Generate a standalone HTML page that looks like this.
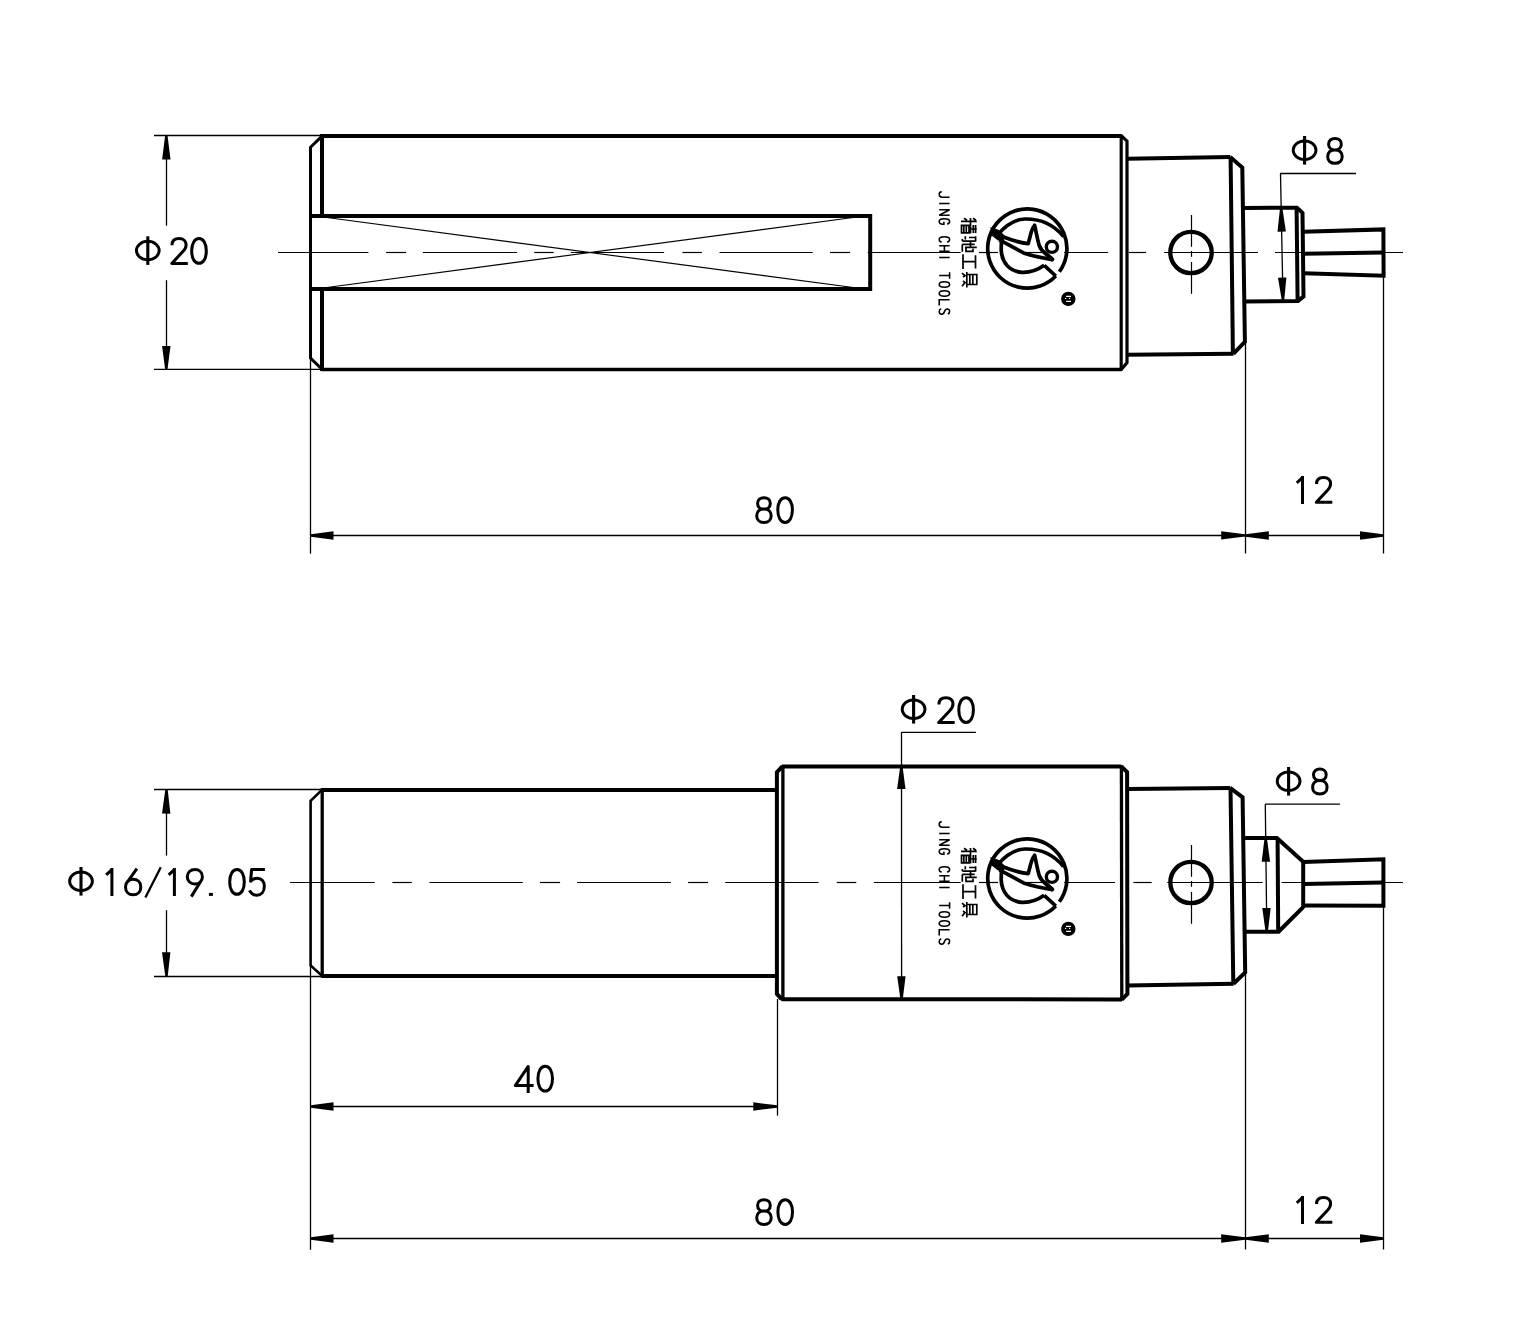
<!DOCTYPE html>
<html><head><meta charset="utf-8"><title>Drawing</title>
<style>html,body{margin:0;padding:0;background:#fff;width:1530px;height:1320px;overflow:hidden;font-family:"Liberation Sans",sans-serif}
svg{display:block}</style></head>
<body><svg width="1530" height="1320" viewBox="0 0 1530 1320" stroke="#000" fill="none" stroke-linecap="butt" stroke-linejoin="miter">
<rect x="0" y="0" width="1530" height="1320" fill="#fff" stroke="none"/>
<line x1="278" y1="252.5" x2="368.4" y2="252.5" stroke-width="1.2"/>
<line x1="386.2" y1="252.5" x2="406.1" y2="252.5" stroke-width="1.2"/>
<line x1="422.8" y1="252.5" x2="517.1" y2="252.5" stroke-width="1.2"/>
<line x1="534.2" y1="252.5" x2="553.7" y2="252.5" stroke-width="1.2"/>
<line x1="570.8" y1="252.5" x2="664.1" y2="252.5" stroke-width="1.2"/>
<line x1="682.4" y1="252.5" x2="701.8" y2="252.5" stroke-width="1.2"/>
<line x1="719.5" y1="252.5" x2="812.8" y2="252.5" stroke-width="1.2"/>
<line x1="830" y1="252.5" x2="850.1" y2="252.5" stroke-width="1.2"/>
<line x1="867.7" y1="252.5" x2="960.7" y2="252.5" stroke-width="1.2"/>
<line x1="979" y1="252.5" x2="998" y2="252.5" stroke-width="1.2"/>
<line x1="1025" y1="252.5" x2="1043" y2="252.5" stroke-width="1.2"/>
<line x1="1064" y1="252.5" x2="1108.2" y2="252.5" stroke-width="1.2"/>
<line x1="1128.8" y1="252.5" x2="1146.1" y2="252.5" stroke-width="1.2"/>
<line x1="1164.1" y1="252.5" x2="1258" y2="252.5" stroke-width="1.2"/>
<line x1="1275" y1="252.5" x2="1403" y2="252.5" stroke-width="1.2"/>
<circle cx="1191" cy="252.5" r="20.7" stroke-width="4.3" fill="none"/>
<line x1="1191.5" y1="215" x2="1191.5" y2="246.8" stroke-width="1.2"/>
<line x1="1191.5" y1="251" x2="1191.5" y2="256.8" stroke-width="1.2"/>
<line x1="1191.5" y1="262" x2="1191.5" y2="293.8" stroke-width="1.2"/>
<path d="M321.5 136 L1121.8 136" stroke-width="4"/>
<path d="M321.5 369.5 L1121.8 369.5" stroke-width="3.4"/>
<path d="M322 134 L322 217.5" stroke-width="4"/>
<path d="M322 287 L322 371" stroke-width="4"/>
<path d="M322.5 135.6 L310.5 147.3 L310.5 358 L322.5 369.8" stroke-width="3"/>
<path d="M310.6 216 L870.2 216 L870.2 289 L310.6 289" stroke-width="4"/>
<line x1="323" y1="217" x2="857" y2="288" stroke-width="1.15"/>
<line x1="323" y1="288" x2="857" y2="217" stroke-width="1.15"/>
<path d="M1121.2 134.5 L1121.2 370.7" stroke-width="3.2"/>
<path d="M1121.5 135.9 L1127 141.2 L1127 362.7 L1121.5 369.3" stroke-width="3.2"/>
<path d="M1127 158.8 L1230.4 156.9" stroke-width="4"/>
<path d="M1127 354.8 L1233.5 353.8" stroke-width="4"/>
<path d="M1230.6 156.9 L1232.9 353.8" stroke-width="4"/>
<path d="M1230.2 156.9 L1242.3 167.6 L1244.9 341.8 L1233.3 353.8" stroke-width="4"/>
<path d="M1244 207.9 L1296.9 207.8 L1302.5 212.8 L1303.5 296.5 L1298 300.9 L1245 301.5" stroke-width="4"/>
<path d="M1296.6 207.9 L1297.6 300.9" stroke-width="4"/>
<path d="M1303.2 231.8 L1383.4 229.4 L1383.6 275.7 L1303.6 273.3" stroke-width="4"/>
<path d="M1303.4 253.8 L1383.4 252.5" stroke-width="4"/>
<line x1="154" y1="135.5" x2="322" y2="135.5" stroke-width="1.3"/>
<line x1="154" y1="369.3" x2="322" y2="369.3" stroke-width="1.3"/>
<line x1="166.5" y1="135.5" x2="166.5" y2="225.7" stroke-width="1.3"/>
<line x1="166.5" y1="280.2" x2="166.5" y2="369.3" stroke-width="1.3"/>
<path d="M165.1 135.8 L162.1 159.5 L170.5 159.5 L167.5 135.8Z" fill="#000" stroke="none"/>
<path d="M167.5 369 L170.5 346.1 L162.1 346.1 L165.1 369Z" fill="#000" stroke="none"/>
<ellipse cx="147.8" cy="250.6" rx="11.4" ry="9.3" stroke-width="2.9" fill="none"/>
<line x1="147.8" y1="236.3" x2="147.8" y2="264.9" stroke-width="3.1"/>
<path transform="translate(170.2 237)" d="M1.8 8.2 C1.8 3.8 4.6 1.5 8.9 1.5 C13.2 1.5 15.9 4 15.9 7.9 C15.9 10.6 14.6 12.6 12.4 14.8 L1.6 26.4 L17.6 26.4" stroke-width="3" fill="none" stroke-linejoin="round"/>
<path transform="translate(190.2 237)" d="M8.8 1.5 C13.2 1.5 16.1 6.5 16.1 13.9 C16.1 21.3 13.2 26.3 8.8 26.3 C4.4 26.3 1.5 21.3 1.5 13.9 C1.5 6.5 4.4 1.5 8.8 1.5Z" stroke-width="3" fill="none" stroke-linejoin="round"/>
<line x1="310.5" y1="357.5" x2="310.5" y2="553.7" stroke-width="1.3"/>
<line x1="1245.5" y1="341.8" x2="1245.5" y2="553.5" stroke-width="1.3"/>
<line x1="1383.5" y1="276" x2="1383.5" y2="553.5" stroke-width="1.3"/>
<line x1="310.5" y1="535.5" x2="1383.5" y2="535.5" stroke-width="1.3"/>
<path d="M310.8 536.7 L333.5 539.7 L333.5 531.3 L310.8 534.3Z" fill="#000" stroke="none"/>
<path d="M1245 534.2 L1221.2 531.2 L1221.2 539.6 L1245 536.6Z" fill="#000" stroke="none"/>
<path d="M1245.6 536.7 L1268.8 539.7 L1268.8 531.3 L1245.6 534.3Z" fill="#000" stroke="none"/>
<path d="M1383 534.3 L1360 531.3 L1360 539.7 L1383 536.7Z" fill="#000" stroke="none"/>
<path transform="translate(755.2 496.2)" d="M8.75 1.5 C12.5 1.5 15.1 3.6 15.1 7.2 C15.1 10.8 12.5 12.9 8.75 12.9 C5 12.9 2.4 10.8 2.4 7.2 C2.4 3.6 5 1.5 8.75 1.5Z M8.75 12.9 C13.2 12.9 16 15.4 16 19.6 C16 23.8 13.2 26.3 8.75 26.3 C4.3 26.3 1.5 23.8 1.5 19.6 C1.5 15.4 4.3 12.9 8.75 12.9Z" stroke-width="3" fill="none" stroke-linejoin="round"/>
<path transform="translate(776.3 496.2)" d="M8.8 1.5 C13.2 1.5 16.1 6.5 16.1 13.9 C16.1 21.3 13.2 26.3 8.8 26.3 C4.4 26.3 1.5 21.3 1.5 13.9 C1.5 6.5 4.4 1.5 8.8 1.5Z" stroke-width="3" fill="none" stroke-linejoin="round"/>
<path transform="translate(1295.9 475.9)" d="M6.6 0 L6.6 28 M6.6 1.6 L0.9 6.9" stroke-width="3" fill="none" stroke-linejoin="round"/>
<path transform="translate(1314.7 475.9)" d="M1.8 8.2 C1.8 3.8 4.6 1.5 8.9 1.5 C13.2 1.5 15.9 4 15.9 7.9 C15.9 10.6 14.6 12.6 12.4 14.8 L1.6 26.4 L17.6 26.4" stroke-width="3" fill="none" stroke-linejoin="round"/>
<line x1="1280.1" y1="173.5" x2="1356" y2="173.5" stroke-width="1.3"/>
<line x1="1280.5" y1="173.5" x2="1283" y2="300.5" stroke-width="1.3"/>
<path d="M1280 208.33 L1277.5 231.79 L1285.9 231.61 L1282.4 208.27Z" fill="#000" stroke="none"/>
<path d="M1284.2 300.46 L1286.4 277.45 L1278 277.75 L1281.8 300.54Z" fill="#000" stroke="none"/>
<ellipse cx="1304.6" cy="150.3" rx="11.4" ry="9.3" stroke-width="2.9" fill="none"/>
<line x1="1304.6" y1="136" x2="1304.6" y2="164.6" stroke-width="3.1"/>
<path transform="translate(1326.2 137)" d="M8.75 1.5 C12.5 1.5 15.1 3.6 15.1 7.2 C15.1 10.8 12.5 12.9 8.75 12.9 C5 12.9 2.4 10.8 2.4 7.2 C2.4 3.6 5 1.5 8.75 1.5Z M8.75 12.9 C13.2 12.9 16 15.4 16 19.6 C16 23.8 13.2 26.3 8.75 26.3 C4.3 26.3 1.5 23.8 1.5 19.6 C1.5 15.4 4.3 12.9 8.75 12.9Z" stroke-width="3" fill="none" stroke-linejoin="round"/>
<path transform="translate(950.4 190.5) rotate(90)" d="M1.3 8.6 C1.3 10.4 2.3 11.2 3.8 11.2 C5.6 11.2 6.7 10.3 6.7 8.2 L6.7 0.8" stroke-width="1.55" fill="none"/>
<path transform="translate(950.4 199.5) rotate(90)" d="M4 0.8 L4 11.2" stroke-width="1.55" fill="none"/>
<path transform="translate(950.4 208.5) rotate(90)" d="M1.3 11.2 L1.3 0.8 L6.7 11.2 L6.7 0.8" stroke-width="1.55" fill="none"/>
<path transform="translate(950.4 217.5) rotate(90)" d="M6.6 3.3 C6.3 1.7 5.3 0.8 4 0.8 C2.2 0.8 1.3 2.5 1.3 6 C1.3 9.5 2.2 11.2 4 11.2 C5.6 11.2 6.7 10 6.7 7.5 L6.7 6.5 L4.2 6.5" stroke-width="1.55" fill="none"/>
<path transform="translate(950.4 235.5) rotate(90)" d="M6.6 3.3 C6.3 1.7 5.3 0.8 4 0.8 C2.2 0.8 1.3 2.5 1.3 6 C1.3 9.5 2.2 11.2 4 11.2 C5.3 11.2 6.3 10.3 6.6 8.7" stroke-width="1.55" fill="none"/>
<path transform="translate(950.4 244.5) rotate(90)" d="M1.3 0.8 L1.3 11.2 M6.7 0.8 L6.7 11.2 M1.3 6 L6.7 6" stroke-width="1.55" fill="none"/>
<path transform="translate(950.4 253.5) rotate(90)" d="M4 0.8 L4 11.2" stroke-width="1.55" fill="none"/>
<path transform="translate(950.4 271.5) rotate(90)" d="M0.8 0.8 L7.2 0.8 M4 0.8 L4 11.2" stroke-width="1.55" fill="none"/>
<path transform="translate(950.4 280.5) rotate(90)" d="M4 0.8 C5.8 0.8 6.7 2.5 6.7 6 C6.7 9.5 5.8 11.2 4 11.2 C2.2 11.2 1.3 9.5 1.3 6 C1.3 2.5 2.2 0.8 4 0.8Z" stroke-width="1.55" fill="none"/>
<path transform="translate(950.4 289.5) rotate(90)" d="M4 0.8 C5.8 0.8 6.7 2.5 6.7 6 C6.7 9.5 5.8 11.2 4 11.2 C2.2 11.2 1.3 9.5 1.3 6 C1.3 2.5 2.2 0.8 4 0.8Z" stroke-width="1.55" fill="none"/>
<path transform="translate(950.4 298.5) rotate(90)" d="M1.3 0.8 L1.3 11.2 L6.9 11.2" stroke-width="1.55" fill="none"/>
<path transform="translate(950.4 307.5) rotate(90)" d="M6.5 2.6 C6.1 1.4 5.2 0.8 4 0.8 C2.3 0.8 1.4 1.8 1.4 3.2 C1.4 4.7 2.4 5.4 4 5.9 C5.7 6.4 6.7 7.2 6.7 8.7 C6.7 10.3 5.6 11.2 4 11.2 C2.6 11.2 1.6 10.5 1.3 9.2" stroke-width="1.55" fill="none"/>
<path d="M961 221.4 L976.8 221.4 M961.5 225.4 L969 225.4 L969 232.8 L961.5 232.8 Z M963.8 225.8 L963.8 232.8 M966.3 225.8 L966.3 232.8 M970.5 218.1 L970.5 233.6 M971.4 229 L976.8 229 M973.3 225.1 L973.3 233.1 M975.6 225.1 L975.6 233.1 M964 218.3 L967 220.3 M973 218.3 L976 220.3 M975.6 236.3 L975.6 241.6 M969 237.5 L975.6 237.5 M962.3 241.1 L975.6 241.1 M962.3 239.1 L962.3 241.1 M965.3 236.3 L965.3 239.4 M962.3 244.4 L974.7 244.4 M962.3 244.4 L962.3 251.8 M965 247.3 L976.8 247.3 M970.5 242.1 L970.5 248.1 M966 247.3 L966 251.3 L973 251.3 L973 248.8 M963 254.2 L963 269.1 M975.5 255.3 L975.5 268.5 M963 261.7 L975.5 261.7 M966.8 274.5 L976.8 274.5 L976.8 284.5 L966.8 284.5 Z M966.8 272 L966.8 287.5 M969.8 275 L969.8 284 M972.8 275 L972.8 284 M962 273.2 L965 275.6 L963 277 M962 286.3 L965 282.6 L963 281" stroke-width="1.7" fill="none"/>
<path d="M1055.79 276.01 A39.6 39.6 0 1 1 1059.34 271.78" stroke-width="3.7" fill="none"/>
<path d="M1055.79 276.01 L1044.2 265.3" stroke-width="3.7"/>
<path d="M1044.2 265.3 C1037 270.5 1030 272.6 1022 272.3 C1009 271.5 1001.8 262 1001.2 250 L1001.5 237" stroke-width="3.7" fill="none"/>
<path d="M997.5 235 C1005 226 1014 219.3 1025 219 C1040 218.7 1054 225 1063.5 236.5" stroke-width="3.7" fill="none"/>
<path d="M990.5 227 L999 230 L1004.5 235.5 L1004 241.5 L998 240.5 L991 235 Z" fill="#000" stroke="none"/>
<path d="M991 230 L1003 236.8 C1010 239.6 1018 242.6 1028.2 243.6 L1030 237 C1031 232 1032.5 228 1034.6 225.3 C1036 231 1037 238 1039.2 245.5 C1040.5 249 1042 251 1045.5 253.2" stroke-width="3.7" fill="none" stroke-linejoin="round"/>
<path d="M999.5 239.8 L1023.5 252.9 C1030 255 1040 257.6 1052.4 259.6" stroke-width="3.7" fill="none"/>
<path d="M1045 253 L1052.2 259.3" stroke-width="4.2" fill="none" stroke-linecap="round"/>
<circle cx="1051.9" cy="246.8" r="5.6" stroke-width="3.4" fill="none"/>
<circle cx="1068.3" cy="298.9" r="7.2" fill="#000" stroke="none"/>
<path d="M1066 296.4 L1071 296.4 M1066.2 301.4 L1071 301.4" stroke="#fff" stroke-width="1.2"/>
<circle cx="1065.6" cy="298.4" r="0.7" fill="#fff" stroke="none"/><circle cx="1069.6" cy="298.4" r="0.7" fill="#fff" stroke="none"/>
<line x1="290.1" y1="882.5" x2="374.8" y2="882.5" stroke-width="1.2"/>
<line x1="392.4" y1="882.5" x2="411.8" y2="882.5" stroke-width="1.2"/>
<line x1="429.5" y1="882.5" x2="522.8" y2="882.5" stroke-width="1.2"/>
<line x1="540" y1="882.5" x2="560.1" y2="882.5" stroke-width="1.2"/>
<line x1="577" y1="882.5" x2="671" y2="882.5" stroke-width="1.2"/>
<line x1="688.1" y1="882.5" x2="708" y2="882.5" stroke-width="1.2"/>
<line x1="725.2" y1="882.5" x2="818.5" y2="882.5" stroke-width="1.2"/>
<line x1="836.8" y1="882.5" x2="856.3" y2="882.5" stroke-width="1.2"/>
<line x1="873.9" y1="882.5" x2="960.7" y2="882.5" stroke-width="1.2"/>
<line x1="979" y1="882.5" x2="998" y2="882.5" stroke-width="1.2"/>
<line x1="1025" y1="882.5" x2="1043" y2="882.5" stroke-width="1.2"/>
<line x1="1064" y1="882.5" x2="1115.1" y2="882.5" stroke-width="1.2"/>
<line x1="1133.4" y1="882.5" x2="1151.7" y2="882.5" stroke-width="1.2"/>
<line x1="1167.3" y1="882.5" x2="1262.7" y2="882.5" stroke-width="1.2"/>
<line x1="1281.6" y1="882.5" x2="1403" y2="882.5" stroke-width="1.2"/>
<circle cx="1191" cy="882.5" r="20.7" stroke-width="4.3" fill="none"/>
<line x1="1191.5" y1="845" x2="1191.5" y2="876.8" stroke-width="1.2"/>
<line x1="1191.5" y1="881" x2="1191.5" y2="886.8" stroke-width="1.2"/>
<line x1="1191.5" y1="892" x2="1191.5" y2="923.8" stroke-width="1.2"/>
<path d="M321.5 790 L776 790" stroke-width="4"/>
<path d="M321.5 976 L776 976" stroke-width="4"/>
<path d="M322.2 788.2 L322.2 977.4" stroke-width="3.3"/>
<path d="M322.5 789.4 L310.6 800.9 L310.6 965.5 L322.5 976.2" stroke-width="2.6"/>
<path d="M782 766.5 L1121.4 766.5" stroke-width="4"/>
<path d="M781.4 999.3 L1122 999.4" stroke-width="4"/>
<path d="M782.9 765.2 L782.9 1000.7" stroke-width="3.3"/>
<path d="M782.3 766.5 L776.9 772.2 L776.9 993.9 L781.6 999.2" stroke-width="4"/>
<path d="M1121.4 765.2 L1121.8 1000.7" stroke-width="3.3"/>
<path d="M1121.4 766.5 L1127.1 772 L1127.4 993.9 L1122 999.4" stroke-width="4"/>
<path d="M1127 789 L1230.3 787.9" stroke-width="4"/>
<path d="M1127 985.6 L1233.7 983.8" stroke-width="4"/>
<path d="M1230.5 787.9 L1233.3 983.8" stroke-width="4"/>
<path d="M1230.1 787.9 L1242.6 797.3 L1245.2 972.5 L1233.5 983.8" stroke-width="4"/>
<path d="M1244.5 838 L1276.9 838 L1303.2 861.7" stroke-width="4"/>
<path d="M1245 931.7 L1278.6 931.7 L1303.2 907.1" stroke-width="4"/>
<path d="M1277.6 838 L1278.2 931.7" stroke-width="4"/>
<path d="M1303.2 859.9 L1303.2 908" stroke-width="4"/>
<path d="M1303.2 862 L1383.4 859.2 L1383.4 905.8 L1303.2 905.6" stroke-width="4"/>
<path d="M1303.2 884.1 L1383.4 882.4" stroke-width="4"/>
<line x1="154" y1="789.5" x2="322" y2="789.5" stroke-width="1.3"/>
<line x1="154" y1="976.5" x2="322" y2="976.5" stroke-width="1.3"/>
<line x1="166.5" y1="789.5" x2="166.5" y2="855.6" stroke-width="1.3"/>
<line x1="166.5" y1="910.2" x2="166.5" y2="976.5" stroke-width="1.3"/>
<path d="M165.3 789.78 L162 813.55 L170.4 813.65 L167.7 789.82Z" fill="#000" stroke="none"/>
<path d="M167.7 976.18 L170.4 952.25 L162 952.35 L165.3 976.22Z" fill="#000" stroke="none"/>
<ellipse cx="81" cy="881.3" rx="11.4" ry="9.3" stroke-width="2.9" fill="none"/>
<line x1="81" y1="867" x2="81" y2="895.6" stroke-width="3.1"/>
<path transform="translate(105.3 868)" d="M6.6 0 L6.6 28 M6.6 1.6 L0.9 6.9" stroke-width="3" fill="none" stroke-linejoin="round"/>
<path transform="translate(124 868)" d="M9.15 11.3 C13.6 11.3 16.8 14.2 16.8 18.9 C16.8 23.6 13.6 26.8 9.15 26.8 C4.7 26.8 1.5 23.6 1.5 18.9 C1.5 14.2 4.7 11.3 9.15 11.3Z M2.6 15.2 L12.9 0.6" stroke-width="3" fill="none" stroke-linejoin="round"/>
<path transform="translate(144.1 866.5)" d="M1.3 31 L16.7 0.8" stroke-width="2.3" fill="none" stroke-linejoin="round"/>
<path transform="translate(167.8 868)" d="M6.6 0 L6.6 28 M6.6 1.6 L0.9 6.9" stroke-width="3" fill="none" stroke-linejoin="round"/>
<path transform="translate(185.8 868)" d="M9.05 1.5 C13.4 1.5 16.6 4.4 16.6 8.7 C16.6 13 13.4 16 9.05 16 C4.7 16 1.5 13 1.5 8.7 C1.5 4.4 4.7 1.5 9.05 1.5Z M15.6 12.3 L5.5 28.6" stroke-width="3" fill="none" stroke-linejoin="round"/>
<path transform="translate(208.9 868)" d="M0 26.4 L4 26.4" stroke-width="3" fill="none" stroke-linejoin="round"/>
<path transform="translate(228.2 868)" d="M8.8 1.5 C13.2 1.5 16.1 6.5 16.1 13.9 C16.1 21.3 13.2 26.3 8.8 26.3 C4.4 26.3 1.5 21.3 1.5 13.9 C1.5 6.5 4.4 1.5 8.8 1.5Z" stroke-width="3" fill="none" stroke-linejoin="round"/>
<path transform="translate(248 868)" d="M16.9 1.6 L3.6 1.6 L2.6 13.2 C4.2 11.3 6.4 10.3 9.2 10.3 C13.8 10.3 16.3 13.6 16.3 18.6 C16.3 23.7 13.3 27.2 8.9 27.2 C5.5 27.2 2.9 25.3 1.5 22.3" stroke-width="3" fill="none" stroke-linejoin="round"/>
<line x1="901.4" y1="732.3" x2="975.9" y2="732.3" stroke-width="1.3"/>
<line x1="901.5" y1="732.3" x2="901.6" y2="999" stroke-width="1.3"/>
<path d="M900.2 766.79 L897.1 788.98 L905.5 789.02 L902.6 766.81Z" fill="#000" stroke="none"/>
<path d="M902.8 998.99 L905.6 976.26 L897.2 976.34 L900.4 999.01Z" fill="#000" stroke="none"/>
<ellipse cx="913.6" cy="709.3" rx="11.4" ry="9.3" stroke-width="2.9" fill="none"/>
<line x1="913.6" y1="695" x2="913.6" y2="723.6" stroke-width="3.1"/>
<path transform="translate(937.1 696.2)" d="M1.8 8.2 C1.8 3.8 4.6 1.5 8.9 1.5 C13.2 1.5 15.9 4 15.9 7.9 C15.9 10.6 14.6 12.6 12.4 14.8 L1.6 26.4 L17.6 26.4" stroke-width="3" fill="none" stroke-linejoin="round"/>
<path transform="translate(957.3 696.2)" d="M8.8 1.5 C13.2 1.5 16.1 6.5 16.1 13.9 C16.1 21.3 13.2 26.3 8.8 26.3 C4.4 26.3 1.5 21.3 1.5 13.9 C1.5 6.5 4.4 1.5 8.8 1.5Z" stroke-width="3" fill="none" stroke-linejoin="round"/>
<line x1="1265.2" y1="804.2" x2="1339.9" y2="804.2" stroke-width="1.3"/>
<line x1="1265.3" y1="804.2" x2="1266.8" y2="931.7" stroke-width="1.3"/>
<path d="M1264.5 838.31 L1261.7 861.74 L1270.1 861.66 L1266.9 838.29Z" fill="#000" stroke="none"/>
<path d="M1267.9 931.39 L1270.7 907.96 L1262.3 908.04 L1265.5 931.41Z" fill="#000" stroke="none"/>
<ellipse cx="1288.6" cy="781.3" rx="11.4" ry="9.3" stroke-width="2.9" fill="none"/>
<line x1="1288.6" y1="767" x2="1288.6" y2="795.6" stroke-width="3.1"/>
<path transform="translate(1311.1 767.6)" d="M8.75 1.5 C12.5 1.5 15.1 3.6 15.1 7.2 C15.1 10.8 12.5 12.9 8.75 12.9 C5 12.9 2.4 10.8 2.4 7.2 C2.4 3.6 5 1.5 8.75 1.5Z M8.75 12.9 C13.2 12.9 16 15.4 16 19.6 C16 23.8 13.2 26.3 8.75 26.3 C4.3 26.3 1.5 23.8 1.5 19.6 C1.5 15.4 4.3 12.9 8.75 12.9Z" stroke-width="3" fill="none" stroke-linejoin="round"/>
<line x1="310.5" y1="965.5" x2="310.5" y2="1249.8" stroke-width="1.3"/>
<line x1="777.5" y1="999" x2="777.5" y2="1115.6" stroke-width="1.3"/>
<line x1="1245.5" y1="972.5" x2="1245.5" y2="1249.6" stroke-width="1.3"/>
<line x1="1383.5" y1="907" x2="1383.5" y2="1249.6" stroke-width="1.3"/>
<line x1="310.5" y1="1106.5" x2="777.5" y2="1106.5" stroke-width="1.3"/>
<path d="M310.8 1107.7 L333.5 1110.7 L333.5 1102.3 L310.8 1105.3Z" fill="#000" stroke="none"/>
<path d="M777.2 1105.3 L753.3 1102.3 L753.3 1110.7 L777.2 1107.7Z" fill="#000" stroke="none"/>
<line x1="310.5" y1="1238.5" x2="1383.5" y2="1238.5" stroke-width="1.3"/>
<path d="M310.8 1239.7 L333.5 1242.7 L333.5 1234.3 L310.8 1237.3Z" fill="#000" stroke="none"/>
<path d="M1245 1237.3 L1221.2 1234.3 L1221.2 1242.7 L1245 1239.7Z" fill="#000" stroke="none"/>
<path d="M1245.6 1239.7 L1268.8 1242.7 L1268.8 1234.3 L1245.6 1237.3Z" fill="#000" stroke="none"/>
<path d="M1383 1237.3 L1360 1234.3 L1360 1242.7 L1383 1239.7Z" fill="#000" stroke="none"/>
<path transform="translate(513.8 1064.8)" d="M14.4 28.2 L14.4 1.6 L1.5 20.8 L19.8 20.8" stroke-width="3" fill="none" stroke-linejoin="round"/>
<path transform="translate(536.4 1064.8)" d="M8.8 1.5 C13.2 1.5 16.1 6.5 16.1 13.9 C16.1 21.3 13.2 26.3 8.8 26.3 C4.4 26.3 1.5 21.3 1.5 13.9 C1.5 6.5 4.4 1.5 8.8 1.5Z" stroke-width="3" fill="none" stroke-linejoin="round"/>
<path transform="translate(755.2 1198.2)" d="M8.75 1.5 C12.5 1.5 15.1 3.6 15.1 7.2 C15.1 10.8 12.5 12.9 8.75 12.9 C5 12.9 2.4 10.8 2.4 7.2 C2.4 3.6 5 1.5 8.75 1.5Z M8.75 12.9 C13.2 12.9 16 15.4 16 19.6 C16 23.8 13.2 26.3 8.75 26.3 C4.3 26.3 1.5 23.8 1.5 19.6 C1.5 15.4 4.3 12.9 8.75 12.9Z" stroke-width="3" fill="none" stroke-linejoin="round"/>
<path transform="translate(776.4 1198.2)" d="M8.8 1.5 C13.2 1.5 16.1 6.5 16.1 13.9 C16.1 21.3 13.2 26.3 8.8 26.3 C4.4 26.3 1.5 21.3 1.5 13.9 C1.5 6.5 4.4 1.5 8.8 1.5Z" stroke-width="3" fill="none" stroke-linejoin="round"/>
<path transform="translate(1295.9 1195.9)" d="M6.6 0 L6.6 28 M6.6 1.6 L0.9 6.9" stroke-width="3" fill="none" stroke-linejoin="round"/>
<path transform="translate(1314.7 1195.9)" d="M1.8 8.2 C1.8 3.8 4.6 1.5 8.9 1.5 C13.2 1.5 15.9 4 15.9 7.9 C15.9 10.6 14.6 12.6 12.4 14.8 L1.6 26.4 L17.6 26.4" stroke-width="3" fill="none" stroke-linejoin="round"/>
<path transform="translate(950.4 820.5) rotate(90)" d="M1.3 8.6 C1.3 10.4 2.3 11.2 3.8 11.2 C5.6 11.2 6.7 10.3 6.7 8.2 L6.7 0.8" stroke-width="1.55" fill="none"/>
<path transform="translate(950.4 829.5) rotate(90)" d="M4 0.8 L4 11.2" stroke-width="1.55" fill="none"/>
<path transform="translate(950.4 838.5) rotate(90)" d="M1.3 11.2 L1.3 0.8 L6.7 11.2 L6.7 0.8" stroke-width="1.55" fill="none"/>
<path transform="translate(950.4 847.5) rotate(90)" d="M6.6 3.3 C6.3 1.7 5.3 0.8 4 0.8 C2.2 0.8 1.3 2.5 1.3 6 C1.3 9.5 2.2 11.2 4 11.2 C5.6 11.2 6.7 10 6.7 7.5 L6.7 6.5 L4.2 6.5" stroke-width="1.55" fill="none"/>
<path transform="translate(950.4 865.5) rotate(90)" d="M6.6 3.3 C6.3 1.7 5.3 0.8 4 0.8 C2.2 0.8 1.3 2.5 1.3 6 C1.3 9.5 2.2 11.2 4 11.2 C5.3 11.2 6.3 10.3 6.6 8.7" stroke-width="1.55" fill="none"/>
<path transform="translate(950.4 874.5) rotate(90)" d="M1.3 0.8 L1.3 11.2 M6.7 0.8 L6.7 11.2 M1.3 6 L6.7 6" stroke-width="1.55" fill="none"/>
<path transform="translate(950.4 883.5) rotate(90)" d="M4 0.8 L4 11.2" stroke-width="1.55" fill="none"/>
<path transform="translate(950.4 901.5) rotate(90)" d="M0.8 0.8 L7.2 0.8 M4 0.8 L4 11.2" stroke-width="1.55" fill="none"/>
<path transform="translate(950.4 910.5) rotate(90)" d="M4 0.8 C5.8 0.8 6.7 2.5 6.7 6 C6.7 9.5 5.8 11.2 4 11.2 C2.2 11.2 1.3 9.5 1.3 6 C1.3 2.5 2.2 0.8 4 0.8Z" stroke-width="1.55" fill="none"/>
<path transform="translate(950.4 919.5) rotate(90)" d="M4 0.8 C5.8 0.8 6.7 2.5 6.7 6 C6.7 9.5 5.8 11.2 4 11.2 C2.2 11.2 1.3 9.5 1.3 6 C1.3 2.5 2.2 0.8 4 0.8Z" stroke-width="1.55" fill="none"/>
<path transform="translate(950.4 928.5) rotate(90)" d="M1.3 0.8 L1.3 11.2 L6.9 11.2" stroke-width="1.55" fill="none"/>
<path transform="translate(950.4 937.5) rotate(90)" d="M6.5 2.6 C6.1 1.4 5.2 0.8 4 0.8 C2.3 0.8 1.4 1.8 1.4 3.2 C1.4 4.7 2.4 5.4 4 5.9 C5.7 6.4 6.7 7.2 6.7 8.7 C6.7 10.3 5.6 11.2 4 11.2 C2.6 11.2 1.6 10.5 1.3 9.2" stroke-width="1.55" fill="none"/>
<path d="M961 851.4 L976.8 851.4 M961.5 855.4 L969 855.4 L969 862.8 L961.5 862.8 Z M963.8 855.8 L963.8 862.8 M966.3 855.8 L966.3 862.8 M970.5 848.1 L970.5 863.6 M971.4 859 L976.8 859 M973.3 855.1 L973.3 863.1 M975.6 855.1 L975.6 863.1 M964 848.3 L967 850.3 M973 848.3 L976 850.3 M975.6 866.3 L975.6 871.6 M969 867.5 L975.6 867.5 M962.3 871.1 L975.6 871.1 M962.3 869.1 L962.3 871.1 M965.3 866.3 L965.3 869.4 M962.3 874.4 L974.7 874.4 M962.3 874.4 L962.3 881.8 M965 877.3 L976.8 877.3 M970.5 872.1 L970.5 878.1 M966 877.3 L966 881.3 L973 881.3 L973 878.8 M963 884.2 L963 899.1 M975.5 885.3 L975.5 898.5 M963 891.7 L975.5 891.7 M966.8 904.5 L976.8 904.5 L976.8 914.5 L966.8 914.5 Z M966.8 902 L966.8 917.5 M969.8 905 L969.8 914 M972.8 905 L972.8 914 M962 903.2 L965 905.6 L963 907 M962 916.3 L965 912.6 L963 911" stroke-width="1.7" fill="none"/>
<path d="M1055.79 906.01 A39.6 39.6 0 1 1 1059.34 901.78" stroke-width="3.7" fill="none"/>
<path d="M1055.79 906.01 L1044.2 895.3" stroke-width="3.7"/>
<path d="M1044.2 895.3 C1037 900.5 1030 902.6 1022 902.3 C1009 901.5 1001.8 892 1001.2 880 L1001.5 867" stroke-width="3.7" fill="none"/>
<path d="M997.5 865 C1005 856 1014 849.3 1025 849 C1040 848.7 1054 855 1063.5 866.5" stroke-width="3.7" fill="none"/>
<path d="M990.5 857 L999 860 L1004.5 865.5 L1004 871.5 L998 870.5 L991 865 Z" fill="#000" stroke="none"/>
<path d="M991 860 L1003 866.8 C1010 869.6 1018 872.6 1028.2 873.6 L1030 867 C1031 862 1032.5 858 1034.6 855.3 C1036 861 1037 868 1039.2 875.5 C1040.5 879 1042 881 1045.5 883.2" stroke-width="3.7" fill="none" stroke-linejoin="round"/>
<path d="M999.5 869.8 L1023.5 882.9 C1030 885 1040 887.6 1052.4 889.6" stroke-width="3.7" fill="none"/>
<path d="M1045 883 L1052.2 889.3" stroke-width="4.2" fill="none" stroke-linecap="round"/>
<circle cx="1051.9" cy="876.8" r="5.6" stroke-width="3.4" fill="none"/>
<circle cx="1068.3" cy="928.9" r="7.2" fill="#000" stroke="none"/>
<path d="M1066 926.4 L1071 926.4 M1066.2 931.4 L1071 931.4" stroke="#fff" stroke-width="1.2"/>
<circle cx="1065.6" cy="928.4" r="0.7" fill="#fff" stroke="none"/><circle cx="1069.6" cy="928.4" r="0.7" fill="#fff" stroke="none"/>
</svg></body></html>
